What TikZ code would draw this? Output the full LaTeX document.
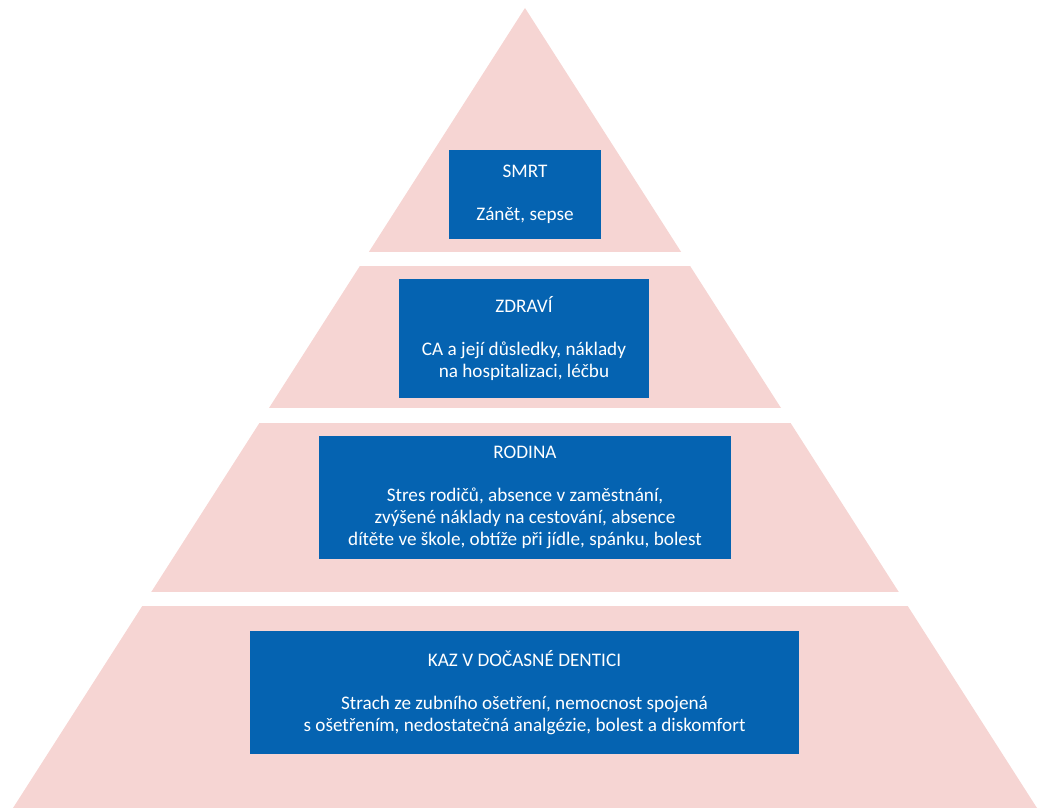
\documentclass[tikz,border=0pt]{standalone}
\usepackage{fontspec}
\setmainfont{Carlito}
\usetikzlibrary{positioning}
\definecolor{tierpink}{RGB}{246,213,211}
\definecolor{tierblue}{RGB}{5,99,177}

\begin{document}
\begin{tikzpicture}[x=1pt,y=-1pt,
  tier/.style={fill=tierblue,text=white,align=center,inner sep=0pt,font=\fontsize{19.2}{22}\selectfont},
  gap/.style={fill=white}
]
\useasboundingbox (0,0) rectangle (1041,808);
\coordinate (apex) at (525,8);
\coordinate (bl) at (13,808);
\coordinate (br) at (1037,808);
\fill[tierpink] (apex) -- (bl) -- (br) -- cycle;
\foreach \a/\b in {252/266,408/423,592/606}
  \fill[gap] (0,\a) rectangle (1041,\b);
\node[tier,minimum width=152pt,minimum height=89pt] (smrt) at (525,194.5) {SMRT\\[21pt]Zánět, sepse};
\node[tier,minimum width=250pt,minimum height=119pt] (zdravi) at (524,338.5) {ZDRAVÍ\\[21pt]CA a její důsledky, náklady\\na hospitalizaci, léčbu};
\node[tier,minimum width=412pt,minimum height=123pt] (rodina) at (525,497.5) {RODINA\\[21pt]Stres rodičů, absence v zaměstnání,\\zvýšené náklady na cestování, absence\\dítěte ve škole, obtíže při jídle, spánku, bolest};
\node[tier,minimum width=549pt,minimum height=123pt] (kaz) at (524.5,692.5) {KAZ V DOČASNÉ DENTICI\\[21pt]Strach ze zubního ošetření, nemocnost spojená\\s ošetřením, nedostatečná analgézie, bolest a diskomfort};
\end{tikzpicture}
\end{document}
